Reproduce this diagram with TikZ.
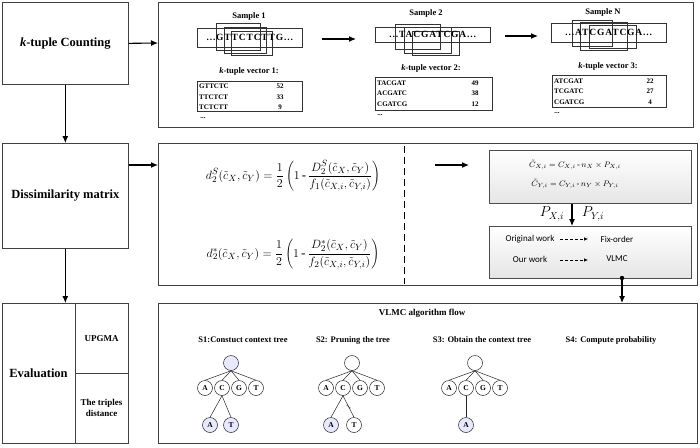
\documentclass[tikz,border=0pt]{standalone}
\usepackage{fontspec}
\setmainfont{Liberation Serif}
\newfontfamily\calfont{Carlito}
\newfontfamily\seqfont[LetterSpace=9]{Liberation Serif Bold}
\usetikzlibrary{arrows.meta,calc}
\begin{document}
\begin{tikzpicture}[x=1pt,y=-1pt,
  frame/.style={draw=black!75, line width=0.7pt, inner sep=0pt, anchor=north west},
  arr/.style={-{Latex[length=7pt,width=6pt]}, line width=1.1pt},
  darr/.style={-{Latex[length=4pt,width=3.5pt]}, line width=0.6pt, dash pattern=on 3pt off 2pt},
  kbox/.style={draw=black!80, line width=0.5pt, inner sep=0pt, anchor=north west},
  lbl/.style={font=\bfseries\fontsize{12.5}{14}\selectfont, align=center},
  slbl/.style={font=\bfseries\fontsize{9}{10.5}\selectfont, align=center},
  samp/.style={font=\bfseries\fontsize{8.5}{10}\selectfont},
  seqt/.style={font=\seqfont\fontsize{9.5}{11}\selectfont},
  tabt/.style={font=\bfseries\fontsize{7}{8}\selectfont, anchor=west, inner sep=0pt},
  tabn/.style={font=\bfseries\fontsize{7}{8}\selectfont, inner sep=0pt},
  steplbl/.style={font=\bfseries\fontsize{8.5}{10}\selectfont},
  tn/.style={circle, draw=black!85, line width=0.5pt, minimum size=15pt, inner sep=0pt, font=\bfseries\fontsize{7.5}{8}\selectfont},
  tnb/.style={tn, fill=blue!9},
  cal/.style={font=\calfont\fontsize{9}{11}\selectfont},
  tedge/.style={draw=black!85, line width=0.5pt}
]
\useasboundingbox (0,0) rectangle (700,447);
\fill[white] (0,0) rectangle (700,447);

% ---------- left column ----------
\node[frame, minimum width=126pt, minimum height=82pt] (b1) at (2,2) {};
\node[lbl] at (b1.center) {\textit{k}-tuple Counting};
\node[frame, minimum width=126pt, minimum height=105pt] (b2) at (2,143) {};
\node[lbl] at (b2.center) {Dissimilarity matrix};
\node[frame, minimum width=126pt, minimum height=140pt] (b3) at (2,303) {};
\coordinate (ev1) at (75,303);
\coordinate (ev2) at (75,443);
\coordinate (ev3) at (75,373);
\coordinate (ev4) at (128,373);
\draw[draw=black!75, line width=0.7pt] (ev1) -- (ev2);
\draw[draw=black!75, line width=0.7pt] (ev3) -- (ev4);
\node[lbl] (evl) at (38.5,373) {Evaluation};
\node[slbl] (upg) at (101.5,339) {UPGMA};
\node[slbl] (trip) at (101.5,408) {The triples\\distance};

\draw[arr] (b1.south) -- (b2.north);
\draw[arr] (b2.south) -- (b3.north);

% ---------- right boxes ----------
\node[frame, minimum width=535pt, minimum height=125pt] (bA) at (158,2) {};
\node[frame, minimum width=539pt, minimum height=142pt] (bB) at (158,143) {};
\node[frame, minimum width=539pt, minimum height=140pt] (bC) at (158,303) {};

\coordinate (inA) at (158,43);
\coordinate (inB) at (158,165);
\draw[arr] (b1.east) -- (inA);
\draw[arr] (b2.east |- inB) -- (inB);

% ---------- Box A ----------
\node[samp] (s1) at (249,16) {Sample 1};
\node[samp] (s2) at (426,13) {Sample 2};
\node[samp] (sN) at (603,12) {Sample N};

\node[kbox, minimum width=105pt, minimum height=19pt] (q1) at (197,28) {};
\node[kbox, minimum width=115pt, minimum height=15pt] (q2) at (375,27) {};
\node[kbox, minimum width=115pt, minimum height=19pt] (q3) at (551,23) {};

\draw[black!80, line width=0.5pt] (216,23) rectangle (260,50);
\draw[black!80, line width=0.5pt] (224,27) rectangle (266,53);
\draw[black!80, line width=0.5pt] (231,31) rectangle (272,55);

\draw[black!80, line width=0.5pt] (395,24) rectangle (440,49);
\draw[black!80, line width=0.5pt] (404,27) rectangle (451,53);
\draw[black!80, line width=0.5pt] (412,31) rectangle (459,55);

\draw[black!80, line width=0.5pt] (572,20) rectangle (612,46);
\draw[black!80, line width=0.5pt] (580,22) rectangle (627,50);
\draw[black!80, line width=0.5pt] (589,25) rectangle (636,48);

\node[seqt] at (q1.center) {...GTTCTCTTG...};
\node[seqt] at (q2.center) {...TACGATCGA...};
\node[seqt] at (q3.center) {...ATCGATCGA...};

\coordinate (a1s) at (322,39);
\coordinate (a1e) at (356,39);
\coordinate (a2s) at (505,36);
\coordinate (a2e) at (538,36);
\draw[arr] (a1s) -- (a1e);
\draw[arr] (a2s) -- (a2e);

\node[samp] (v1) at (249,71) {\textit{k}-tuple vector 1:};
\node[samp] (v2) at (431,68) {\textit{k}-tuple vector 2:};
\node[samp] (v3) at (608,66) {\textit{k}-tuple vector 3:};

\node[kbox, minimum width=105pt, minimum height=30pt] (t1) at (197,81) {};
\node[tabt] at (199,86) {GTTCTC};
\node[tabt] at (199,97) {TTCTCT};
\node[tabt] at (199,107) {TCTCTT};
\node[tabn] at (280,86) {52};
\node[tabn] at (280,97) {33};
\node[tabn] at (280,107) {9};
\node[tabn] at (203,118) {...};

\node[kbox, minimum width=117pt, minimum height=33pt] (t2) at (375,77) {};
\node[tabt] at (377,83) {TACGAT};
\node[tabt] at (377,93) {ACGATC};
\node[tabt] at (377,104) {CGATCG};
\node[tabn] at (475,83) {49};
\node[tabn] at (475,93) {38};
\node[tabn] at (475,104) {12};
\node[tabn] at (380,115) {...};

\node[kbox, minimum width=114pt, minimum height=32pt] (t3) at (552,75) {};
\node[tabt] at (554,81) {ATCGAT};
\node[tabt] at (554,91) {TCGATC};
\node[tabt] at (554,102) {CGATCG};
\node[tabn] at (650,81) {22};
\node[tabn] at (650,91) {27};
\node[tabn] at (650,102) {4};
\node[tabn] at (557,113) {...};

% ---------- Box B ----------
\node (f1) at (293,176) {\fontsize{13}{15}\selectfont $\displaystyle d_2^S(\tilde c_X,\tilde c_Y)=\frac{1}{2}\left(1\,\mbox{-}\,\frac{D_2^S(\tilde c_X,\tilde c_Y)}{f_1(\tilde c_{X,i},\tilde c_{Y,i})}\right)$};
\node (f2) at (293,254) {\fontsize{13}{15}\selectfont $\displaystyle d_2^*(\tilde c_X,\tilde c_Y)=\frac{1}{2}\left(1\,\mbox{-}\,\frac{D_2^*(\tilde c_X,\tilde c_Y)}{f_2(\tilde c_{X,i},\tilde c_{Y,i})}\right)$};

\coordinate (dl1) at (404,146);
\coordinate (dl2) at (404,284);
\draw[line width=0.8pt, dash pattern=on 7pt off 4pt] (dl1) -- (dl2);

\coordinate (a3s) at (435,165);
\coordinate (a3e) at (469,165);
\draw[arr] (a3s) -- (a3e);

\node[draw=black!70, line width=0.6pt, top color=white, bottom color=black!10, minimum width=202pt, minimum height=53pt, inner sep=0pt, anchor=north west] (cbox) at (489,150) {};
\node[font=\fontsize{8.5}{9}\selectfont] at (575,165) {$\tilde C_{X,i}=C_{X,i}\,\mbox{-}\,n_X\times P_{X,i}$};
\node[font=\fontsize{8.5}{9}\selectfont] at (575,184) {$\tilde C_{Y,i}=C_{Y,i}\,\mbox{-}\,n_Y\times P_{Y,i}$};

\node[draw=black!70, line width=0.6pt, top color=white, bottom color=black!10, minimum width=202pt, minimum height=52pt, inner sep=0pt, anchor=north west] (wbox) at (489,226) {};
\draw[arr] (cbox.south -| 572,0) -- (wbox.north -| 572,0);
\node[font=\fontsize{14}{16}\selectfont] at (552,214) {$P_{X,i}$};
\node[font=\fontsize{14}{16}\selectfont] at (593,214) {$P_{Y,i}$};

\node[cal] (ow) at (530,239) {Original work};
\node[cal] (fo) at (617,239) {Fix-order};
\node[cal] (our) at (530,259) {Our work};
\node[cal] (vl) at (617,259) {VLMC};
\coordinate (d1s) at (560,239);
\coordinate (d1e) at (588,239);
\coordinate (d2s) at (560,260);
\coordinate (d2e) at (588,260);
\draw[darr] (d1s) -- (d1e);
\draw[darr] (d2s) -- (d2e);

\coordinate (vdot) at (622,278);
\coordinate (vend) at (622,303);
\fill (vdot) circle (2.2pt);
\draw[arr] (vdot) -- (vend);

% ---------- Box C ----------
\node[font=\bfseries\fontsize{9}{10}\selectfont] (vt) at (422,313) {VLMC algorithm flow};
\node[steplbl] at (243,340) {S1:Constuct context tree};
\node[steplbl] at (353,340) {S2: Pruning the tree};
\node[steplbl] at (482,340) {S3: Obtain the context tree};
\node[steplbl] at (611,340) {S4: Compute probability};

% tree 1
\node[tnb] (r1) at (231,363) {};
\node[tn] (r1a) at (205,388) {A};
\node[tn] (r1c) at (222,388) {C};
\node[tn] (r1g) at (239,388) {G};
\node[tn] (r1t) at (256,388) {T};
\node[tnb] (r1ca) at (210,425) {A};
\node[tnb] (r1ct) at (231,425) {T};
\foreach \c in {r1a,r1c,r1g,r1t} \draw[tedge] (r1.south) -- (\c.north);
\draw[tedge] (r1c.south) -- (r1ca.north);
\draw[tedge] (r1c.south) -- (r1ct.north);

% tree 2
\node[tn] (r2) at (352,363) {};
\node[tn] (r2a) at (326,388) {A};
\node[tn] (r2c) at (343,388) {C};
\node[tn] (r2g) at (360,388) {G};
\node[tn] (r2t) at (377,388) {T};
\node[tnb] (r2ca) at (331,425) {A};
\node[tn] (r2ct) at (354,425) {T};
\foreach \c in {r2a,r2c,r2g,r2t} \draw[tedge] (r2.south) -- (\c.north);
\draw[tedge] (r2c.south) -- (r2ca.north);
\draw[tedge] (r2c.south) -- coordinate[pos=0.5] (cut) (r2ct.north);
\draw[tedge, line width=0.4pt] ($(cut)+(-2,-1.5)$) -- ($(cut)+(2,1.5)$);

% tree 3
\node[tn] (r3) at (475,363) {};
\node[tn] (r3a) at (449,388) {A};
\node[tn] (r3c) at (466,388) {C};
\node[tn] (r3g) at (483,388) {G};
\node[tn] (r3t) at (500,388) {T};
\node[tnb] (r3ca) at (466,425) {A};
\foreach \c in {r3a,r3c,r3g,r3t} \draw[tedge] (r3.south) -- (\c.north);
\draw[tedge] (r3c.south) -- (r3ca.north);
\end{tikzpicture}
\end{document}
